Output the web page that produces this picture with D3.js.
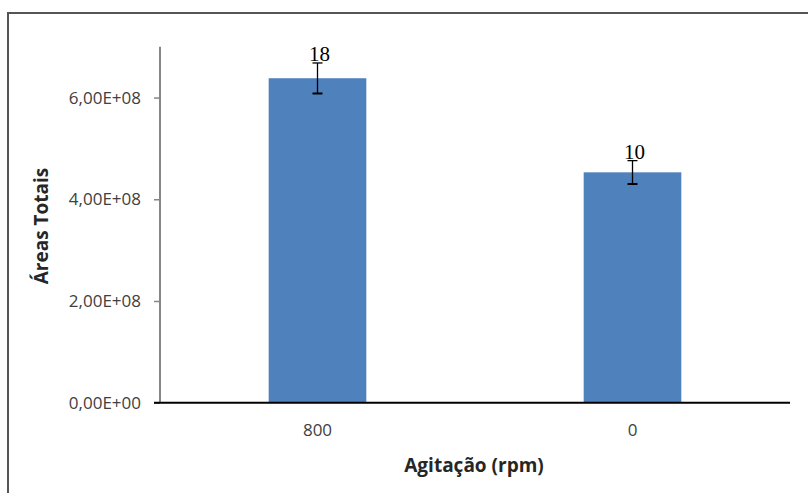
<!DOCTYPE html>
<html><head><meta charset="utf-8">
<script src="https://cdn.jsdelivr.net/npm/d3@7"></script>
<style>body{margin:0;background:#fff;}svg{display:block;}</style>
</head><body>
<script>
const categories = ["800", "0"];
const values = [6.38e8, 4.53e8];
const errors = [0.30e8, 0.23e8];
const barLabels = ["18", "10"];
const yTicks = [0, 2e8, 4e8, 6e8];
const yTickLabels = ["0,00E+00", "2,00E+08", "4,00E+08", "6,00E+08"];

const W = 808, H = 493;
const svg = d3.select("body").append("svg").attr("width", W).attr("height", H);
svg.append("rect").attr("width", W).attr("height", H).attr("fill", "#fff");
// outer frame
svg.append("rect").attr("x", 8).attr("y", 13).attr("width", W + 20).attr("height", H + 20)
  .attr("fill", "none").attr("stroke", "#555").attr("stroke-width", 2);

const x0 = 160, x1 = 790, yBase = 402.7, yTop = 46.7;
const x = d3.scaleBand().domain(categories).range([x0, x1]).paddingInner(0.69).paddingOuter(0.345);
const y = d3.scaleLinear().domain([0, 7e8]).range([yBase, yTop]);

// bars
svg.selectAll(".bar").data(categories).enter().append("rect")
  .attr("x", d => x(d)).attr("width", x.bandwidth())
  .attr("y", (d, i) => y(values[i])).attr("height", (d, i) => yBase - y(values[i]))
  .attr("fill", "#4F81BD");

// y axis
const yAxis = d3.axisLeft(y).tickValues(yTicks).tickSize(6).tickPadding(13)
  .tickFormat((d, i) => yTickLabels[i]);
const gy = svg.append("g").attr("transform", `translate(${x0},0)`).call(yAxis);
gy.select(".domain").attr("d", `M0,${yTop}V${yBase}`).attr("stroke", "#868686").attr("stroke-width", 2);
gy.selectAll(".tick line").attr("stroke", "#868686").attr("stroke-width", 1.5);
gy.selectAll(".tick text").attr("font-family", "'Open Sans', sans-serif").attr("font-size", 17)
  .attr("fill", "#404040");

// x axis
const xAxis = d3.axisBottom(x).tickSize(0).tickPadding(21);
const gx = svg.append("g").attr("transform", `translate(0,${yBase})`).call(xAxis);
gx.select(".domain").attr("d", `M${x0 - 6},0H${x1}`).attr("stroke", "#000").attr("stroke-width", 2);
gx.selectAll(".tick text").attr("font-family", "'Open Sans', sans-serif").attr("font-size", 17)
  .attr("fill", "#404040");

// error bars
const eb = svg.selectAll(".err").data(categories).enter().append("g");
eb.append("line").attr("x1", d => x(d) + x.bandwidth() / 2).attr("x2", d => x(d) + x.bandwidth() / 2)
  .attr("y1", (d, i) => y(values[i] + errors[i])).attr("y2", (d, i) => y(values[i] - errors[i]))
  .attr("stroke", "#000").attr("stroke-width", 1.3);
eb.append("line").attr("x1", d => x(d) + x.bandwidth() / 2 - 5).attr("x2", d => x(d) + x.bandwidth() / 2 + 5)
  .attr("y1", (d, i) => y(values[i] - errors[i])).attr("y2", (d, i) => y(values[i] - errors[i]))
  .attr("stroke", "#000").attr("stroke-width", 2);
eb.append("line").attr("x1", d => x(d) + x.bandwidth() / 2 - 5).attr("x2", d => x(d) + x.bandwidth() / 2 + 5)
  .attr("y1", (d, i) => y(values[i] + errors[i])).attr("y2", (d, i) => y(values[i] + errors[i]))
  .attr("stroke", "#000").attr("stroke-width", 1.3);

// bar labels
svg.selectAll(".lbl").data(categories).enter().append("text")
  .attr("x", d => x(d) + x.bandwidth() / 2 + 2)
  .attr("y", (d, i) => y(values[i] + errors[i]) - 2)
  .attr("text-anchor", "middle")
  .attr("font-family", "'Liberation Serif', 'DejaVu Serif', serif").attr("font-size", 21)
  .attr("fill", "#000")
  .text((d, i) => barLabels[i]);

// axis titles
svg.append("text").attr("x", 474).attr("y", 472).attr("text-anchor", "middle")
  .attr("font-family", "'Open Sans', sans-serif").attr("font-weight", "bold").attr("font-size", 19)
  .attr("fill", "#262626").text("Agitação (rpm)");
svg.append("text").attr("transform", `translate(48,226) rotate(-90)`).attr("text-anchor", "middle")
  .attr("font-family", "'Open Sans', sans-serif").attr("font-weight", "bold").attr("font-size", 19)
  .attr("fill", "#262626").text("Áreas Totais");
</script>
</body></html>
